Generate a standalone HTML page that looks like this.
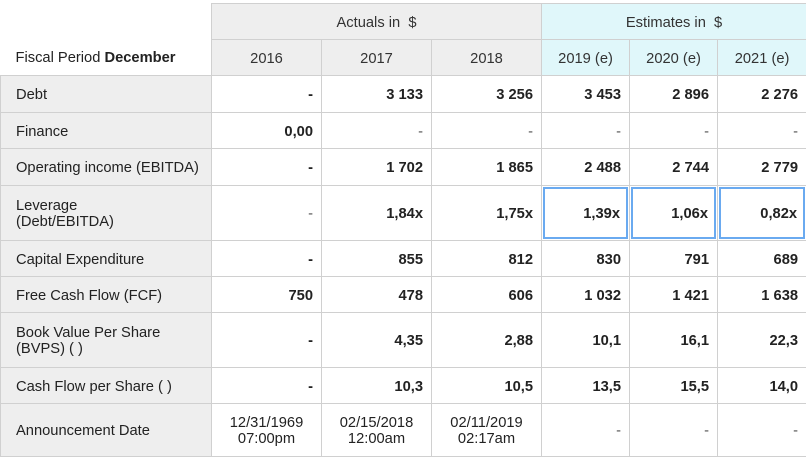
<!DOCTYPE html>
<html><head><meta charset="utf-8"><style>
body{margin:0;width:806px;height:466px;background:#fff;font-family:"Liberation Sans",sans-serif;font-size:14.7px;color:#222;overflow:hidden}
table{position:absolute;left:0;top:3px;border-collapse:collapse;table-layout:fixed;width:806px}
td,th{border:1px solid #d0d0d0;padding:0 8px;font-weight:normal}
th{background:#eee;text-align:center;color:#333;padding-top:2px}
th.est{background:#e0f7fa}
td{padding-top:2px}
td.lbl{background:#eee;text-align:left;padding-left:15px;line-height:16px}
td.v{text-align:right;font-weight:bold;background:#fff;position:relative}
td.n{font-weight:normal;color:#555}
td.c{text-align:center;font-weight:normal;line-height:16px}
.box{position:absolute;left:1px;top:1px;right:1px;bottom:1px;border:2px solid #6aaaf0;box-sizing:border-box}
.box span{position:absolute;right:6px;top:50%;transform:translateY(-45%)}
</style></head><body>
<table>
<colgroup><col style="width:211px"><col style="width:110px"><col style="width:110px"><col style="width:110px"><col style="width:88px"><col style="width:88px"><col style="width:89px"></colgroup>
<tr style="height:36px"><td rowspan="2" style="border:none;border-bottom:1px solid #d0d0d0;padding-left:15px;vertical-align:bottom;padding-bottom:9px">Fiscal Period <b>December</b></td>
<th colspan="3">Actuals in &nbsp;$</th><th colspan="3" class="est">Estimates in &nbsp;$</th></tr>
<tr style="height:36px"><th>2016</th><th>2017</th><th>2018</th><th class="est">2019 (e)</th><th class="est">2020 (e)</th><th class="est">2021 (e)</th></tr>
<tr style="height:37px"><td class="lbl">Debt</td><td class="v">-</td><td class="v">3 133</td><td class="v">3 256</td><td class="v">3 453</td><td class="v">2 896</td><td class="v">2 276</td></tr>
<tr style="height:36px"><td class="lbl">Finance</td><td class="v">0,00</td><td class="v n">-</td><td class="v n">-</td><td class="v n">-</td><td class="v n">-</td><td class="v n">-</td></tr>
<tr style="height:37px"><td class="lbl">Operating income (EBITDA)</td><td class="v">-</td><td class="v">1 702</td><td class="v">1 865</td><td class="v">2 488</td><td class="v">2 744</td><td class="v">2 779</td></tr>
<tr style="height:55px"><td class="lbl">Leverage<br>(Debt/EBITDA)</td><td class="v n">-</td><td class="v">1,84x</td><td class="v">1,75x</td><td class="v"><div class="box"><span>1,39x</span></div></td><td class="v"><div class="box"><span>1,06x</span></div></td><td class="v"><div class="box"><span>0,82x</span></div></td></tr>
<tr style="height:36px"><td class="lbl">Capital Expenditure</td><td class="v">-</td><td class="v">855</td><td class="v">812</td><td class="v">830</td><td class="v">791</td><td class="v">689</td></tr>
<tr style="height:36px"><td class="lbl">Free Cash Flow (FCF)</td><td class="v">750</td><td class="v">478</td><td class="v">606</td><td class="v">1 032</td><td class="v">1 421</td><td class="v">1 638</td></tr>
<tr style="height:55px"><td class="lbl">Book Value Per Share<br>(BVPS) (&nbsp;)</td><td class="v">-</td><td class="v">4,35</td><td class="v">2,88</td><td class="v">10,1</td><td class="v">16,1</td><td class="v">22,3</td></tr>
<tr style="height:36px"><td class="lbl">Cash Flow per Share (&nbsp;)</td><td class="v">-</td><td class="v">10,3</td><td class="v">10,5</td><td class="v">13,5</td><td class="v">15,5</td><td class="v">14,0</td></tr>
<tr style="height:53px"><td class="lbl">Announcement Date</td><td class="v c">12/31/1969<br>07:00pm</td><td class="v c">02/15/2018<br>12:00am</td><td class="v c">02/11/2019<br>02:17am</td><td class="v n">-</td><td class="v n">-</td><td class="v n">-</td></tr>
</table>
</body></html>
